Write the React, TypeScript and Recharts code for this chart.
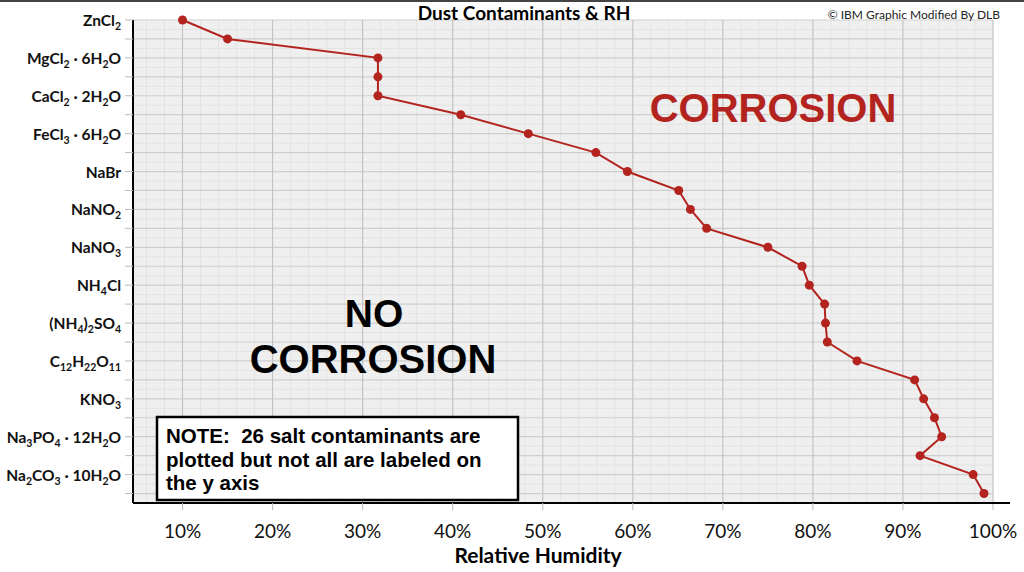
import { CartesianGrid, ReferenceLine, Scatter, ScatterChart, XAxis, YAxis } from "recharts";

const salts = [
  "ZnCl2", "", "MgCl2 · 6H2O", "", "CaCl2 · 2H2O", "", "FeCl3 · 6H2O", "", "NaBr", "",
  "NaNO2", "", "NaNO3", "", "NH4Cl", "", "(NH4)2SO4", "", "C12H22O11", "",
  "KNO3", "", "Na3PO4 · 12H2O", "", "Na2CO3 · 10H2O", "",
];
const humidity = [
  10, 15, 31.7, 31.7, 31.7, 40.9, 48.4, 55.9, 59.4, 65.1, 66.4, 68.2, 75.0,
  78.8, 79.6, 81.3, 81.4, 81.6, 84.9, 91.3, 92.3, 93.5, 94.3, 91.9, 97.8, 99.0,
];
const rhTicks = [10, 20, 30, 40, 50, 60, 70, 80, 90, 100];
const minorRh = [6, 8, 12, 14, 16, 18, 22, 24, 26, 28, 32, 34, 36, 38, 42, 44, 46, 48, 52, 54, 56, 58, 62, 64, 66, 68, 72, 74, 76, 78, 82, 84, 86, 88, 92, 94, 96, 98];

const data = humidity.map((rh, i) => ({ rh, idx: i }));
const idxTicks = salts.map((_, i) => i);
const minorIdx = salts.map((_, i) => i + 0.5);

const RED = "#b3241f";
const LABEL_FONT = "Lato, 'Open Sans', sans-serif";
const ARIAL = "'Liberation Sans', Arial, sans-serif";

// digits right after a letter or ")" are subscripts
function splitFormula(s: string) {
  const parts: { t: string; sub: boolean }[] = [];
  const re = /(\d+)|([^\d]+)/g;
  let m;
  while ((m = re.exec(s))) {
    const prev = m.index > 0 ? s[m.index - 1] : " ";
    const sub = !!m[1] && /[A-Za-z)]/.test(prev);
    parts.push({ t: m[0], sub });
  }
  return parts;
}

function SaltTick(props: any) {
  const { x, y, payload } = props;
  const label = salts[payload.value] || "";
  if (!label) return null;
  const parts = splitFormula(label);
  let wasSub = false;
  return (
    <text x={x} y={y + 6} textAnchor="end" fontFamily={LABEL_FONT} fontWeight={700} fontSize={15.5} fill="#111">
      {parts.map((p, i) => {
        const dy = p.sub && !wasSub ? 4 : !p.sub && wasSub ? -4 : 0;
        wasSub = p.sub;
        return (
          <tspan key={i} dy={dy} fontSize={p.sub ? 10.5 : 15.5}>
            {p.t}
          </tspan>
        );
      })}
    </text>
  );
}

const Dot = (props: any) => <circle cx={props.cx} cy={props.cy} r={4.5} fill={RED} />;

export default function App() {
  return (
    <div style={{ position: "absolute", left: 0, top: 0, width: 1024, height: 572, background: "#fff" }}>
      <ScatterChart width={1024} height={572} margin={{ top: 20, right: 31, bottom: 0, left: 8 }}>
        <CartesianGrid fill="#efefef" stroke="none" />
        {minorRh.map((v) => (
          <ReferenceLine key={"mx" + v} x={v} stroke="#e3e3e3" strokeWidth={1} />
        ))}
        {minorIdx.map((v) => (
          <ReferenceLine key={"my" + v} y={v} stroke="#e3e3e3" strokeWidth={1} />
        ))}
        {idxTicks.map((v) => (
          <ReferenceLine key={"hy" + v} y={v} stroke="#cfcfcf" strokeWidth={1.2} />
        ))}
        {rhTicks.map((v) => (
          <ReferenceLine key={"vx" + v} x={v} stroke="#c4c4c4" strokeWidth={1.2} />
        ))}
        <XAxis
          type="number"
          dataKey="rh"
          domain={[4.5, 100]}
          ticks={rhTicks}
          tickFormatter={(v) => `${v}%`}
          height={69}
          tickSize={7}
          tickMargin={15}
          axisLine={{ stroke: "#000", strokeWidth: 2 }}
          tickLine={{ stroke: "#bbb" }}
          tick={{ fill: "#111", fontSize: 19, fontFamily: LABEL_FONT }}
        />
        <YAxis
          type="number"
          dataKey="idx"
          domain={[0, 25.5]}
          reversed
          ticks={idxTicks}
          interval={0}
          width={125}
          tickSize={8}
          tickMargin={4}
          axisLine={{ stroke: "#000", strokeWidth: 2 }}
          tickLine={{ stroke: "#bbb" }}
          tick={<SaltTick />}
        />
        <Scatter
          data={data}
          line={{ stroke: RED, strokeWidth: 2 }}
          lineType="joint"
          shape={Dot}
          isAnimationActive={false}
        />
      </ScatterChart>
      <svg width={1024} height={572} style={{ position: "absolute", left: 0, top: 0, pointerEvents: "none" }}>
        <line x1={0} y1={1} x2={1024} y2={1} stroke="#444" strokeWidth={2} />
        <line x1={992} y1={503} x2={1010} y2={503} stroke="#000" strokeWidth={2} />
        <text x={524} y={20} textAnchor="middle" fontFamily={LABEL_FONT} fontWeight={700} fontSize={19} fill="#000">
          Dust Contaminants &amp; RH
        </text>
        <text x={1000} y={19} textAnchor="end" fontFamily={LABEL_FONT} fontSize={12} fill="#222">
          © IBM Graphic Modified By DLB
        </text>
        <text x={773} y={122} textAnchor="middle" fontFamily={ARIAL} fontWeight={700} fontSize={40} fill={RED}>
          CORROSION
        </text>
        <text x={374} y={327} textAnchor="middle" fontFamily={ARIAL} fontWeight={700} fontSize={39} fill="#000">
          NO
        </text>
        <text x={373} y={373} textAnchor="middle" fontFamily={ARIAL} fontWeight={700} fontSize={40} fill="#000">
          CORROSION
        </text>
        <rect x={157} y={417} width={361} height={83} fill="#fff" stroke="#000" strokeWidth={2.5} />
        <g fontFamily={ARIAL} fontWeight={700} fontSize={20.5} fill="#000">
          <text x={166} y={443} xmlSpace="preserve">NOTE:  26 salt contaminants are</text>
          <text x={166} y={467}>plotted but not all are labeled on</text>
          <text x={166} y={490}>the y axis</text>
        </g>
        <text x={538} y={563} textAnchor="middle" fontFamily={LABEL_FONT} fontWeight={700} fontSize={21} fill="#000">
          Relative Humidity
        </text>
      </svg>
    </div>
  );
}
